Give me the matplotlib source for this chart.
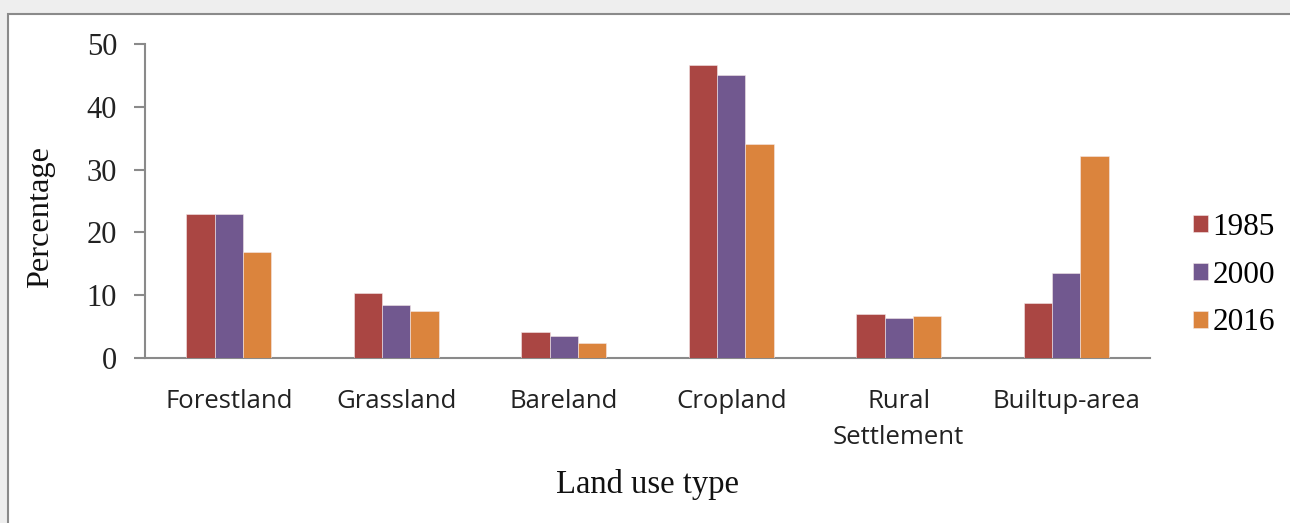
# land use change bar chart

import numpy as np
import matplotlib
matplotlib.use("Agg")
import matplotlib.pyplot as plt
from matplotlib.patches import Rectangle

categories = ["Forestland", "Grassland", "Bareland", "Cropland", "Rural\nSettlement", "Builtup-area"]
years = ["1985", "2000", "2016"]
v1985 = [22.9, 10.4, 4.1, 46.6, 7.0, 8.7]
v2000 = [22.9, 8.4, 3.5, 45.0, 6.4, 13.6]
v2016 = [16.9, 7.5, 2.4, 34.1, 6.7, 32.2]
yticks = [0, 10, 20, 30, 40, 50]

colors = ["#AA4643", "#71588F", "#DB843D"]
serif = ["Liberation Serif", "DejaVu Serif"]

fig = plt.figure(figsize=(12.9, 5.23), dpi=100)
fig.patch.set_facecolor("#eeeeee")

# white frame with grey border
frame = Rectangle((8 / 1290, -0.05), 1.1, 1 - 14 / 523 + 0.05, transform=fig.transFigure,
                  facecolor="white", edgecolor="#8a8a8a", linewidth=1.5, zorder=-5)
fig.patches.append(frame)

ax = fig.add_axes([145 / 1290, 1 - 358 / 523, (1150 - 145) / 1290, (358 - 44) / 523])
ax.set_facecolor("none")

x = np.arange(len(categories))
w = 0.17
for i, vals in enumerate([v1985, v2000, v2016]):
    ax.bar(x + (i - 1) * w, vals, width=w, color=colors[i], label=years[i],
           edgecolor="#f4e8e8", linewidth=0.4, zorder=3)

ax.set_xlim(-0.5, len(categories) - 0.5)
ax.set_ylim(0, 50)
ax.set_yticks(yticks)
ax.set_yticklabels([str(t) for t in yticks], fontfamily=serif, fontsize=22)
ax.set_xticks(x)
ax.set_xticklabels(categories, fontfamily="Open Sans", fontsize=18.5, linespacing=1.6)

for s in ["top", "right"]:
    ax.spines[s].set_visible(False)
for s in ["left", "bottom"]:
    ax.spines[s].set_color("#8a8a8a")
    ax.spines[s].set_linewidth(1.5)

ax.tick_params(axis="y", length=8, width=1.5, color="#8a8a8a", pad=12, labelcolor="#222222")
ax.tick_params(axis="x", length=0, pad=22, labelcolor="#222222")

# axis titles
fig.text(41 / 1290, 1 - 217 / 523, "Percentage", rotation=90, ha="center", va="center",
         fontfamily=serif, fontsize=23.3, color="#111111")
fig.text(647 / 1290, 1 - 484 / 523, "Land use type", ha="center", va="center",
         fontfamily=serif, fontsize=23.5, color="#111111")

leg = ax.legend(loc="center left", bbox_to_anchor=(1.030, 0.264), frameon=False,
                prop={"family": serif, "size": 22.5}, handlelength=0.48, handleheight=0.48,
                handletextpad=0.16, labelspacing=0.6, borderaxespad=0)

fig.savefig("out.png", dpi=100, facecolor=fig.get_facecolor())
